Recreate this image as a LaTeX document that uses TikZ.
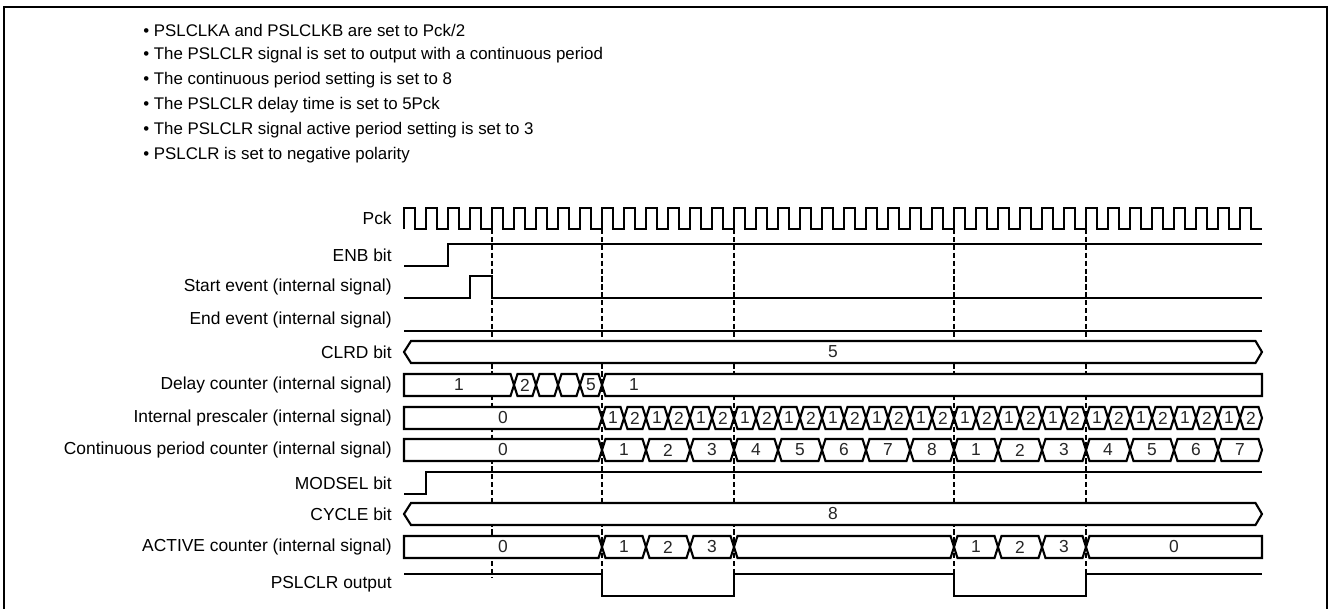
\documentclass[tikz,border=0pt]{standalone}
\usepackage{fontspec}
\setmainfont{Liberation Sans}
\usepackage{tikz}

\tikzset{
  sig/.style={line width=1.2pt},
  guide/.style={line width=0.6pt, dash pattern=on 3pt off 1.5pt},
  lbl/.style={anchor=east, inner sep=0pt, font=\fontsize{9.9}{12}\selectfont},
  val/.style={inner sep=0pt, font=\fontsize{9.9}{12}\selectfont, text=black!85},
  note/.style={anchor=west, inner sep=0pt, font=\fontsize{9.6}{12}\selectfont},
}

% one bus segment: name, centre y, t1, t2, left slant, right slant, value
\newcommand{\busseg}[7]{%
  \pgfmathsetmacro{\xa}{404+22*(#3)}%
  \pgfmathsetmacro{\xb}{404+22*(#4)}%
  \filldraw[sig, fill=white] (\xa,#2) -- ({\xa+#5},{#2-11}) -- ({\xb-#6},{#2-11}) -- (\xb,#2)
    -- ({\xb-#6},{#2+11}) -- ({\xa+#5},{#2+11}) -- cycle;
  \node[val] (#1) at ({(\xa+\xb)/2},#2) {#7};
}

\begin{document}
\begin{tikzpicture}[x=0.02cm, y=-0.02cm]
    \useasboundingbox (0,0) rectangle (1330,609);
    \draw[line width=1.4pt] (4,609) -- (4,7) -- (1327,7) -- (1327,609);

    % settings
    \foreach \s [count=\i] in {{PSLCLKA and PSLCLKB are set to Pck/2},
        {The PSLCLR signal is set to output with a continuous period},
        {The continuous period setting is set to 8},
        {The PSLCLR delay time is set to 5Pck},
        {The PSLCLR signal active period setting is set to 3},
        {PSLCLR is set to negative polarity}}
        \node[note] (note\i) at (143,{5+25*\i}) {\textbullet\ \s};

    % signal names
    \foreach \n/\y/\s in {pck/218/Pck, enb/255/ENB bit, start/287/Start event (internal signal),
        endev/320/End event (internal signal), clrd/352/CLRD bit,
        dly/385/Delay counter (internal signal), prs/418/Internal prescaler (internal signal),
        cnt/450/Continuous period counter (internal signal), modsel/483/MODSEL bit,
        cycle/514/CYCLE bit, active/547/ACTIVE counter (internal signal), out/584/PSLCLR output}
        \node[lbl] (\n) at (392,\y) {\s};

    % timing guides
    \foreach \t in {4,9,15,25,31}
        \draw[guide] ({404+22*\t},229) -- ({404+22*\t},577);

    % Pck
    \draw[sig] (404,229) \foreach \k in {0,...,38} { -- ++(0,-21) -- ++(11,0) -- ++(0,21) -- ++(11,0) };
    % ENB, start, end
    \draw[sig] (404,266) -- (448,266) -- (448,244) -- (1262,244);
    \draw[sig] (404,298) -- (470,298) -- (470,276) -- (492,276) -- (492,298) -- (1262,298);
    \draw[sig] (404,331) -- (1262,331);

    % CLRD
    \busseg{clrd5}{352}{0}{39}{7}{6.5}{5}

    % delay counter
    \busseg{dly1}{385}{0}{5}{0}{3.5}{1}
    \busseg{dly2}{385}{5}{6}{3.5}{3.5}{2}
    \busseg{dly3}{385}{6}{7}{3.5}{3.5}{}
    \busseg{dly4}{385}{7}{8}{3.5}{3.5}{}
    \busseg{dly5}{385}{8}{9}{3.5}{3.5}{5}
    \busseg{dlyb}{385}{9}{39}{3.5}{0}{}
    \node[val] (dly1b) at (634,385) {1};

    % prescaler
    \busseg{prs0}{418}{0}{9}{0}{3.5}{0}
    \foreach \k in {0,...,14} {
        \busseg{prsa\k}{418}{9+2*\k}{10+2*\k}{3.5}{3.5}{1}
        \busseg{prsb\k}{418}{10+2*\k}{11+2*\k}{3.5}{3.5}{2}
    }

    % continuous period counter
    \busseg{cnt0}{450}{0}{9}{0}{3.5}{0}
    \foreach \n in {1,...,8} {
        \busseg{cnta\n}{450}{7+2*\n}{9+2*\n}{3.5}{3.5}{\n}
    }
    \foreach \n in {1,...,7} {
        \busseg{cntb\n}{450}{23+2*\n}{25+2*\n}{3.5}{3.5}{\n}
    }

    % MODSEL
    \draw[sig] (404,494) -- (426,494) -- (426,472) -- (1262,472);

    % CYCLE
    \busseg{cycle8}{514}{0}{39}{7}{6.5}{8}

    % ACTIVE counter
    \busseg{act0}{547}{0}{9}{0}{3.5}{0}
    \foreach \ta/\tb/\v [count=\i] in {9/11/1, 11/13/2, 13/15/3, 15/25/, 25/27/1, 27/29/2, 29/31/3} {
        \busseg{act\i}{547}{\ta}{\tb}{3.5}{3.5}{\v}
    }
    \busseg{actz}{547}{31}{39}{3.5}{0}{0}

    % PSLCLR output
    \draw[sig] (404,574) -- (602,574) -- (602,596) -- (734,596) -- (734,574) -- (954,574)
        -- (954,596) -- (1086,596) -- (1086,574) -- (1262,574);
\end{tikzpicture}
\end{document}
